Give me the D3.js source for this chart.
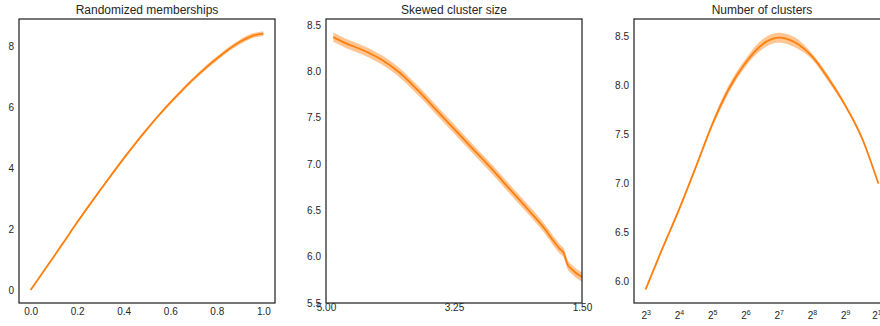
<!DOCTYPE html>
<html>
<head>
<meta charset="utf-8">
<script src="https://cdn.jsdelivr.net/npm/d3@7"></script>
<style>
  body { margin: 0; background: #fff; }
  svg { display: block; }
  text { font-family: "Liberation Sans", Arial, sans-serif; fill: #262626; }
</style>
</head>
<body>
<div id="chart"></div>
<script>

// Randomized memberships panel :
var memberX  = [0, 0.05, 0.1, 0.15, 0.2, 0.25, 0.3, 0.35, 0.4, 0.45, 0.5,
                0.55, 0.6, 0.65, 0.7, 0.75, 0.8, 0.85, 0.9, 0.95, 1.0];
var memberY  = [0, 0.55, 1.1, 1.66, 2.22, 2.76, 3.29, 3.81, 4.32, 4.81, 5.28,
                5.73, 6.15, 6.55, 6.93, 7.28, 7.6, 7.9, 8.15, 8.34, 8.42];
var memberCi = [0.02, 0.03, 0.03, 0.03, 0.04, 0.04, 0.04, 0.05, 0.05, 0.05, 0.05,
                0.05, 0.06, 0.06, 0.06, 0.07, 0.07, 0.07, 0.08, 0.08, 0.08];

// Skewed cluster size panel :
var skewX  = [4.9, 4.75, 4.5, 4.25, 4.0, 3.75, 3.5, 3.25, 3.0, 2.75, 2.5,
              2.25, 2.0, 1.9, 1.8, 1.75, 1.7, 1.65, 1.5];
var skewY  = [8.37, 8.31, 8.23, 8.13, 7.99, 7.8, 7.59, 7.38, 7.17, 6.96, 6.74,
              6.52, 6.29, 6.18, 6.08, 6.04, 5.92, 5.87, 5.78];
var skewCi = [0.05, 0.05, 0.05, 0.05, 0.05, 0.05, 0.05, 0.05, 0.05, 0.05, 0.05,
              0.05, 0.05, 0.05, 0.05, 0.05, 0.05, 0.05, 0.05];

// Number of clusters panel :
var clusterN  = [8, 11, 16, 23, 32, 45, 64, 91, 128, 181, 256, 362, 512, 724, 1024];
var clusterY  = [5.92, 6.3, 6.73, 7.18, 7.6, 7.96, 8.23, 8.42, 8.49, 8.44, 8.3, 8.07, 7.8, 7.47, 7.0];
var clusterCi = [0.01, 0.02, 0.02, 0.02, 0.03, 0.04, 0.04, 0.05, 0.05, 0.05, 0.03, 0.03, 0.02, 0.02, 0.01];

// Tick labels :
var memberXTicks  = [0, 0.2, 0.4, 0.6, 0.8, 1.0];
var memberYTicks  = [0, 2, 4, 6, 8];
var skewXTicks    = [5.0, 3.25, 1.5];
var skewYTicks    = [5.5, 6.0, 6.5, 7.0, 7.5, 8.0, 8.5];
var clusterXTicks = [8, 16, 32, 64, 128, 256, 512, 1024];
var clusterYTicks = [6.0, 6.5, 7.0, 7.5, 8.0, 8.5];

var width = 880;
var height = 326;
var top_ = 19;
var bottom = 303;
var panelW = 256;
var orange = "#ff7f0e";

var svg = d3.select("#chart").append("svg")
    .attr("width", width)
    .attr("height", height);

// drawPanel :
// One subplot: title, CI band, mean line, frame and tick labels.
function drawPanel(p) {
  var g = svg.append("g").attr("transform", "translate(" + p.left + ",0)");

  var rows = p.xs.map(function(x, i) {
    return { x: x, y: p.ys[i], lo: p.ys[i] - p.ci[i], hi: p.ys[i] + p.ci[i] };
  });

  var area = d3.area()
      .x(function(d) { return p.x(d.x); })
      .y0(function(d) { return p.y(d.lo); })
      .y1(function(d) { return p.y(d.hi); })
      .curve(d3.curveMonotoneX);

  var line = d3.line()
      .x(function(d) { return p.x(d.x); })
      .y(function(d) { return p.y(d.y); })
      .curve(d3.curveMonotoneX);

  g.append("path")
      .datum(rows)
      .attr("d", area)
      .style("fill", orange)
      .style("opacity", 0.45);

  g.append("path")
      .datum(rows)
      .attr("d", line)
      .style("fill", "none")
      .style("stroke", orange)
      .style("stroke-width", 1.8);

  g.append("rect")
      .attr("x", 0)
      .attr("y", top_)
      .attr("width", panelW)
      .attr("height", bottom - top_)
      .style("fill", "none")
      .style("stroke", "#262626")
      .style("stroke-width", 1.25);

  var yAxis = g.append("g")
      .call(d3.axisLeft(p.y).tickValues(p.yTicks).tickSize(0).tickPadding(5).tickFormat(p.yFormat));
  yAxis.select(".domain").remove();
  yAxis.selectAll("text").style("font-size", "10px").style("fill", "#262626");

  var xAxis = g.append("g")
      .attr("transform", "translate(0," + bottom + ")")
      .call(d3.axisBottom(p.x).tickValues(p.xTicks).tickSize(0).tickPadding(p.xPad).tickFormat(p.xFormat));
  xAxis.select(".domain").remove();
  xAxis.selectAll("text").style("font-size", "10px").style("fill", "#262626");

  g.append("text")
      .attr("x", panelW / 2)
      .attr("y", 13.5)
      .attr("text-anchor", "middle")
      .style("font-size", "12px")
      .text(p.title);

  return xAxis;
}

drawPanel({
  left: 19,
  title: "Randomized memberships",
  xs: memberX, ys: memberY, ci: memberCi,
  x: d3.scaleLinear().domain([-0.05, 1.05]).range([0, panelW]),
  y: d3.scaleLinear().domain([-0.43, 8.9]).range([bottom, top_]),
  xTicks: memberXTicks, yTicks: memberYTicks,
  xFormat: d3.format(".1f"), yFormat: d3.format("d"),
  xPad: 4.5
});

drawPanel({
  left: 326,
  title: "Skewed cluster size",
  xs: skewX, ys: skewY, ci: skewCi,
  x: d3.scaleLinear().domain([5.0, 1.5]).range([0, panelW]),
  y: d3.scaleLinear().domain([5.5, 8.565]).range([bottom, top_]),
  xTicks: skewXTicks, yTicks: skewYTicks,
  xFormat: d3.format(".2f"), yFormat: d3.format(".1f"),
  xPad: 1
});

var clusterAxis = drawPanel({
  left: 634,
  title: "Number of clusters",
  xs: clusterN, ys: clusterY, ci: clusterCi,
  x: d3.scaleLog().base(2).domain([Math.pow(2, 2.65), Math.pow(2, 10.35)]).range([0, panelW]),
  y: d3.scaleLinear().domain([5.78, 8.68]).range([bottom, top_]),
  xTicks: clusterXTicks, yTicks: clusterYTicks,
  xFormat: function() { return ""; }, yFormat: d3.format(".1f"),
  xPad: 9
});

// Power-of-two labels with a raised exponent :
clusterAxis.selectAll(".tick text").each(function(d) {
  var t = d3.select(this).text("2");
  t.append("tspan")
      .attr("dy", "-0.55em")
      .style("font-size", "7px")
      .text(Math.round(Math.log2(d)));
});

</script>
</body>
</html>
